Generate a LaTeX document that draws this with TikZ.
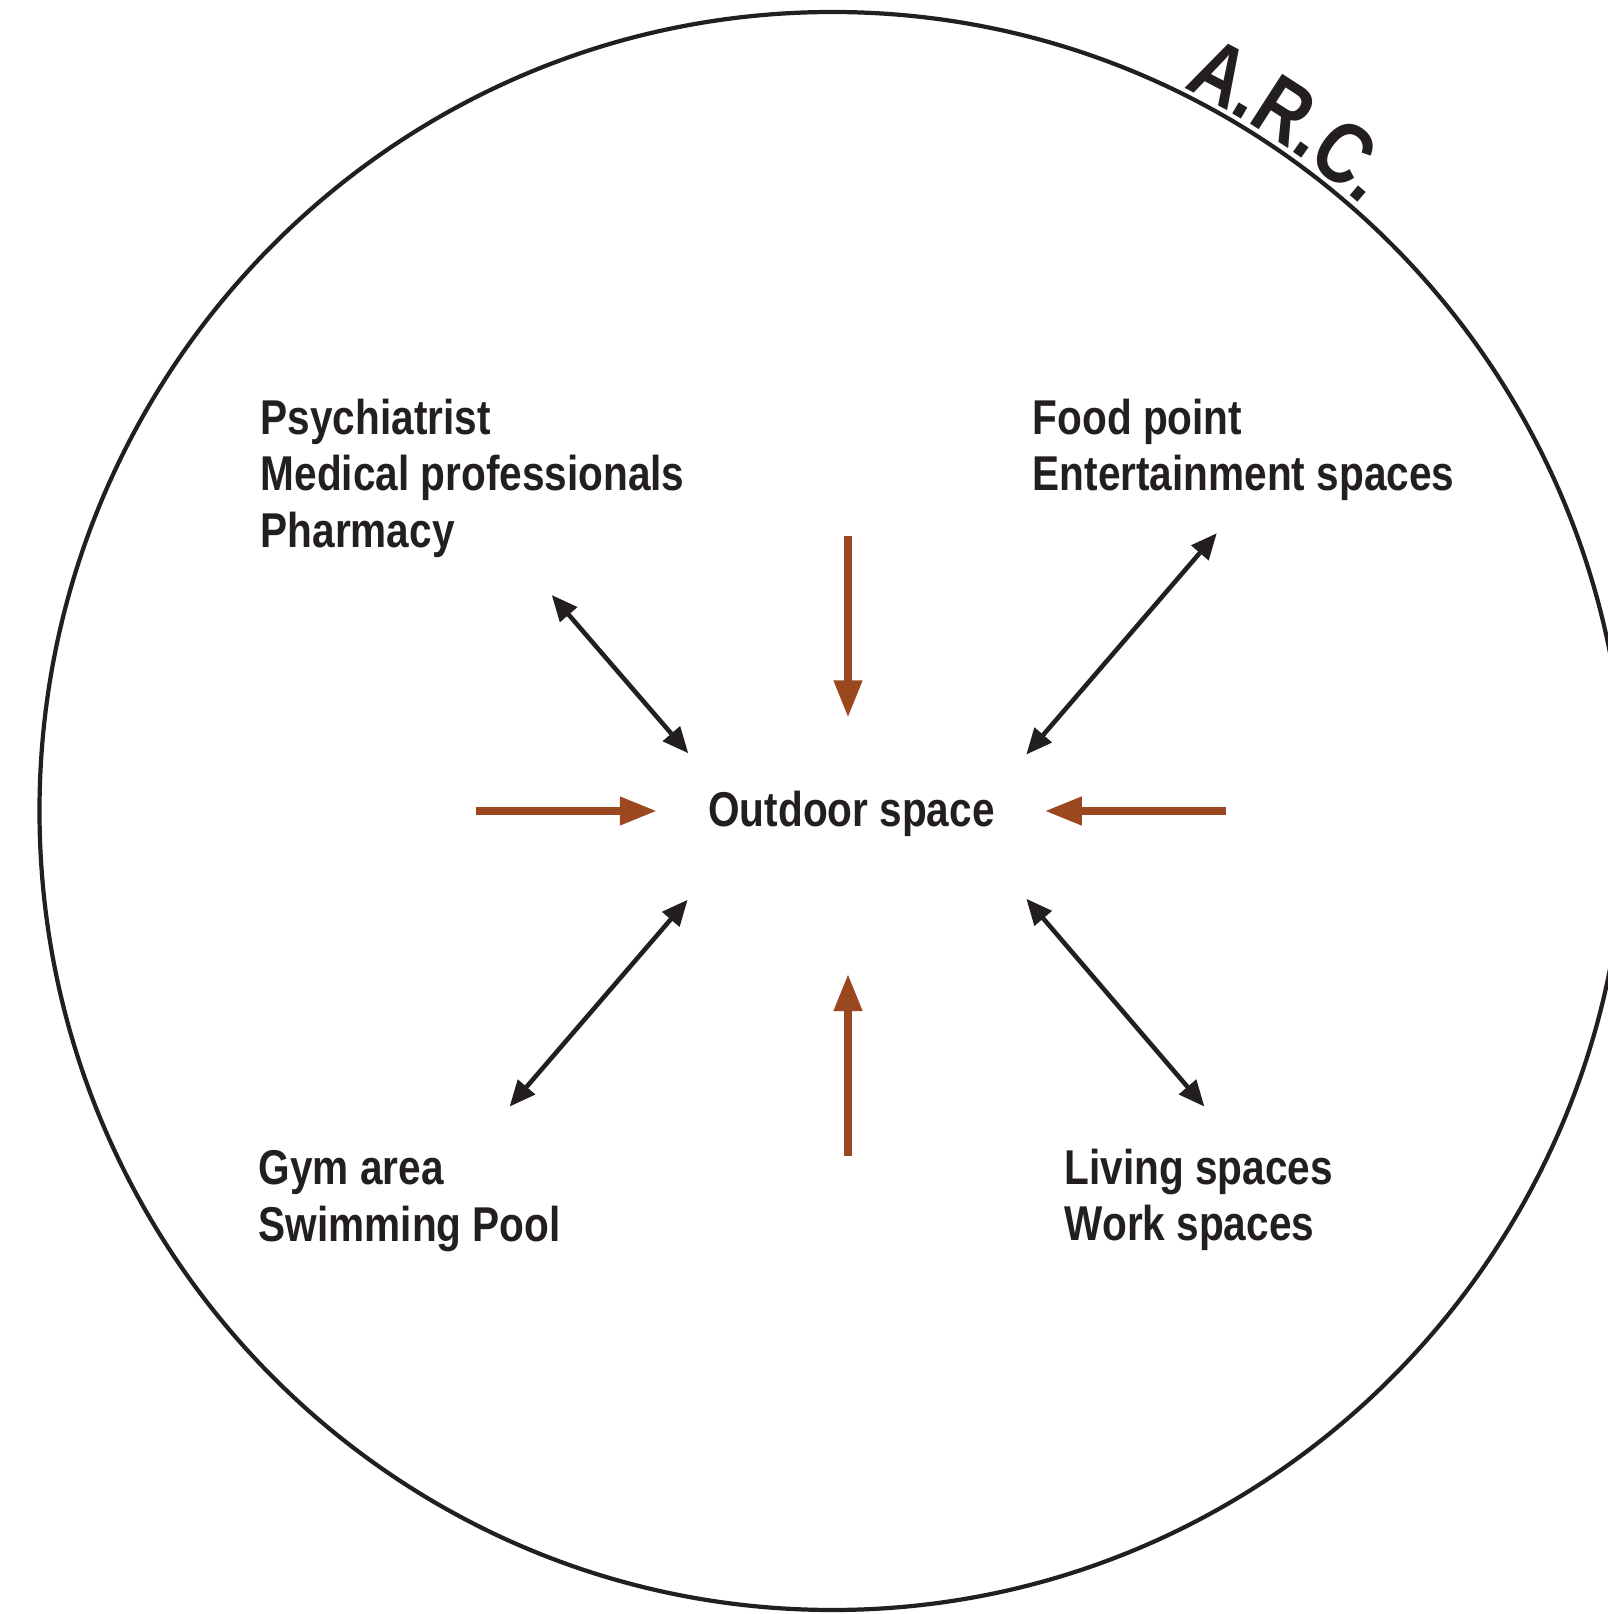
\documentclass[tikz,border=0pt]{standalone}
\usepackage{fontspec}
\newfontfamily\condfont[FakeStretch=0.83]{Liberation Sans}
\usepackage{tikz}
\usetikzlibrary{arrows.meta, decorations.text}
\definecolor{inkblack}{RGB}{35,31,32}
\definecolor{rust}{RGB}{155,72,33}
\newcommand\arcfont{\condfont\bfseries\fontsize{24.5}{28}\selectfont}
\tikzstyle{zone} = [anchor=north west, align=left, inner sep=0pt, text=inkblack, font=\condfont\bfseries\fontsize{13.9}{16.1}\selectfont]
\tikzstyle{hub} = [anchor=base, inner sep=0pt, text=inkblack, font=\condfont\bfseries\fontsize{13.9}{16.1}\selectfont]
\tikzstyle{link} = [line width=1.3pt, draw=inkblack, {Triangle[length=2.6mm,width=2.2mm]}-{Triangle[length=2.6mm,width=2.2mm]}]
\tikzstyle{flow} = [line width=2.1pt, draw=rust, -{Triangle[length=3.7mm,width=2.7mm]}]

\begin{document}
\begin{tikzpicture}[x=0.01cm, y=0.01cm]
  \clip (0,0) rectangle (1608,1614);
  % outer boundary + title on the rim
  \draw[line width=1.2pt, inkblack] (832.5,803) ellipse [x radius=793, y radius=799];
  \path[decorate, decoration={text along path, text align=center, text={|\arcfont\color{inkblack}|A.R.C.}}]
    (832.5,803) ++(72:804) arc[start angle=72, end angle=41, radius=804];

  \node[hub] (out) at (851.5,787) {Outdoor space};
  \node[zone] (med) at (260,1216) {Psychiatrist\\Medical professionals\\Pharmacy};
  \node[zone] (food) at (1032,1216) {Food point\\Entertainment spaces};
  \node[zone] (gym) at (258,464) {Gym area\\Swimming Pool};
  \node[zone] (live) at (1064,466) {Living spaces\\Work spaces};

  % arrow ends
  \coordinate (med-a) at (551.7,1019);   \coordinate (med-b) at (688.3,860.7);
  \coordinate (food-a) at (1216.8,1080.8); \coordinate (food-b) at (1026.3,859.4);
  \coordinate (gym-a) at (687.7,714.3);  \coordinate (gym-b) at (509.6,507.4);
  \coordinate (live-a) at (1026.3,715.3); \coordinate (live-b) at (1204.4,507.4);
  \coordinate (n-a) at (848,1078);  \coordinate (n-b) at (848,896.5);
  \coordinate (s-a) at (848,458);   \coordinate (s-b) at (848,640);
  \coordinate (w-a) at (475.6,803); \coordinate (w-b) at (656.8,803);
  \coordinate (e-a) at (1226,803);  \coordinate (e-b) at (1044.8,803);

  \draw[link] (med-a) -- (med-b);
  \draw[link] (food-a) -- (food-b);
  \draw[link] (gym-a) -- (gym-b);
  \draw[link] (live-a) -- (live-b);
  \draw[flow] (n-a) -- (n-b);
  \draw[flow] (s-a) -- (s-b);
  \draw[flow] (w-a) -- (w-b);
  \draw[flow] (e-a) -- (e-b);
\end{tikzpicture}
\end{document}
